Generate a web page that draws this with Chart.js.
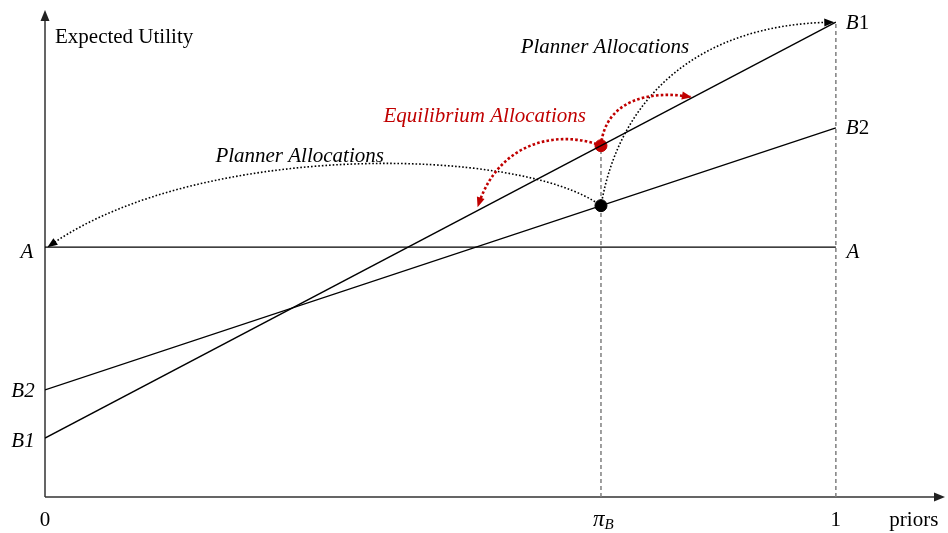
<!DOCTYPE html>
<html>
<head>
<meta charset="utf-8">
<script src="https://cdn.jsdelivr.net/npm/chart.js@4.4.1/dist/chart.umd.min.js"></script>
<style>
    html, body { margin: 0; padding: 0; background: #fff; }
    canvas { display: block; }
</style>
</head>
<body>
<canvas id="diagram" width="948" height="533"></canvas>
<script>
// Werte (x: priors 0..1, y: erwarteter Nutzen in willkürlichen Einheiten)
const priors = [0, 1];
const utilA = [5.13, 5.13];
const utilB1 = [1.21, 9.75];
const utilB2 = [2.20, 7.58];
const piB = 0.703;

// Kontrollpunkte der gepunkteten Pfeile (Datenkoordinaten): [cp1, cp2, ende]
const plannerLeft = [[0.600, 7.20], [0.200, 7.30], [0.003, 5.13]];
const plannerUp = [[0.727, 8.25], [0.828, 9.69], [0.998, 9.75]];
const equilLeft = [[0.651, 7.54], [0.575, 7.33], [0.547, 5.95]];
const equilRight = [[0.708, 8.15], [0.765, 8.36], [0.818, 8.21]];

const RED = '#c00000';
const SERIF = '"Liberation Serif", "Times New Roman", serif';

const lineAt = (arr, x) => arr[0] + (arr[1] - arr[0]) * x;
const redY = lineAt(utilB1, piB);
const blackY = lineAt(utilB2, piB);

const toPts = (ys) => priors.map((p, i) => ({ x: p, y: ys[i] }));

function arrowHead(ctx, fromX, fromY, toX, toY, color, len = 10, half = 4) {
    const ang = Math.atan2(toY - fromY, toX - fromX);
    ctx.save();
    ctx.fillStyle = color;
    ctx.setLineDash([]);
    ctx.beginPath();
    ctx.moveTo(toX, toY);
    ctx.lineTo(toX - len * Math.cos(ang) + half * Math.sin(ang), toY - len * Math.sin(ang) - half * Math.cos(ang));
    ctx.lineTo(toX - len * Math.cos(ang) - half * Math.sin(ang), toY - len * Math.sin(ang) + half * Math.cos(ang));
    ctx.closePath();
    ctx.fill();
    ctx.restore();
}

function dottedCurve(ctx, xs, ys, start, cps, color, width, dash) {
    const p = [start, ...cps].map(pt => [xs.getPixelForValue(pt[0]), ys.getPixelForValue(pt[1])]);
    ctx.save();
    ctx.strokeStyle = color;
    ctx.lineWidth = width;
    ctx.setLineDash(dash);
    ctx.beginPath();
    ctx.moveTo(p[0][0], p[0][1]);
    // etwas vor der Spitze aufhören, damit die Pfeilspitze sauber sitzt
    const ex = p[3][0] - (p[3][0] - p[2][0]) * 0.04;
    const ey = p[3][1] - (p[3][1] - p[2][1]) * 0.04;
    ctx.bezierCurveTo(p[1][0], p[1][1], p[2][0], p[2][1], ex, ey);
    ctx.stroke();
    ctx.restore();
    arrowHead(ctx, p[2][0], p[2][1], p[3][0], p[3][1], color);
}

function label(ctx, text, x, y, style, color = '#000', align = 'center') {
    ctx.save();
    ctx.font = style + ' ' + SERIF;
    ctx.fillStyle = color;
    ctx.textAlign = align;
    ctx.textBaseline = 'middle';
    ctx.fillText(text, x, y);
    ctx.restore();
}

const diagramPlugin = {
    id: 'diagram',
    beforeDatasetsDraw(chart) {
        const { ctx, chartArea: area, scales: { x, y } } = chart;
        const x0 = x.getPixelForValue(0);
        const y0 = y.getPixelForValue(0);

        // Achsen
        ctx.save();
        ctx.strokeStyle = '#333';
        ctx.lineWidth = 1.5;
        ctx.beginPath();
        ctx.moveTo(x0, y0);
        ctx.lineTo(x0, area.top + 8);
        ctx.moveTo(x0, y0);
        ctx.lineTo(area.right - 8, y0);
        ctx.stroke();
        ctx.restore();
        arrowHead(ctx, x0, y0, x0, area.top, '#222', 11, 4.5);
        arrowHead(ctx, x0, y0, area.right, y0, '#222', 11, 4.5);

        // gestrichelte Senkrechten
        ctx.save();
        ctx.strokeStyle = '#7f7f7f';
        ctx.lineWidth = 1.5;
        ctx.setLineDash([4, 3]);
        ctx.beginPath();
        ctx.moveTo(x.getPixelForValue(piB), y0);
        ctx.lineTo(x.getPixelForValue(piB), y.getPixelForValue(redY));
        ctx.moveTo(x.getPixelForValue(1), y0);
        ctx.lineTo(x.getPixelForValue(1), y.getPixelForValue(utilB1[1]));
        ctx.stroke();
        ctx.restore();

        // gepunktete Pfeile
        dottedCurve(ctx, x, y, [piB, blackY], plannerLeft, '#000', 1.6, [1.6, 2]);
        dottedCurve(ctx, x, y, [piB, blackY], plannerUp, '#000', 1.6, [1.6, 2]);
        dottedCurve(ctx, x, y, [piB, redY], equilLeft, RED, 2.6, [2.6, 2.2]);
        dottedCurve(ctx, x, y, [piB, redY], equilRight, RED, 2.6, [2.6, 2.2]);
    },
    afterDatasetsDraw(chart) {
        const { ctx, scales: { x, y } } = chart;
        const px = v => x.getPixelForValue(v);
        const py = v => y.getPixelForValue(v);

        label(ctx, 'Expected Utility', px(0) + 10, py(10) + 27, '21px', '#000', 'left');
        label(ctx, 'Planner Allocations', px(0.708), py(9.23), 'italic 21px');
        label(ctx, 'Planner Allocations', px(0.322), py(7.0), 'italic 21px');
        label(ctx, 'Equilibrium Allocations', px(0.556), py(7.82), 'italic 21px', RED);

        label(ctx, 'A', px(0) - 18, py(utilA[0]) + 5, 'italic 21px');
        label(ctx, 'A', px(1) + 17, py(utilA[1]) + 5, 'italic 21px');
        label(ctx, 'B2', px(0) - 22, py(utilB2[0]) + 2, 'italic 21px');
        label(ctx, 'B1', px(0) - 22, py(utilB1[0]) + 3, 'italic 21px');

        // rechts: B kursiv, Ziffer aufrecht
        [[utilB1[1], '1'], [utilB2[1], '2']].forEach(([v, d]) => {
            ctx.save();
            ctx.fillStyle = '#000';
            ctx.textBaseline = 'middle';
            ctx.font = 'italic 21px ' + SERIF;
            ctx.fillText('B', px(1) + 10, py(v) + 1);
            const w = ctx.measureText('B').width;
            ctx.font = '21px ' + SERIF;
            ctx.fillText(d, px(1) + 10 + w, py(v) + 1);
            ctx.restore();
        });

        const ty = py(0) + 23;
        label(ctx, '0', px(0), ty, '21px');
        label(ctx, '1', px(1), ty, '21px');
        label(ctx, 'priors', px(1) + 78, ty, '21px');

        // π_B
        ctx.save();
        ctx.fillStyle = '#000';
        ctx.textBaseline = 'alphabetic';
        ctx.font = 'italic 23px ' + SERIF;
        const piW = ctx.measureText('π').width;
        ctx.fillText('π', px(piB) - 8, ty + 6);
        ctx.font = 'italic 15px ' + SERIF;
        ctx.fillText('B', px(piB) - 8 + piW, ty + 9);
        ctx.restore();
    }
};

const lineStyle = {
    borderColor: '#000',
    borderWidth: 1.3,
    pointRadius: 0,
    fill: false,
    tension: 0
};

new Chart(document.getElementById('diagram'), {
    type: 'line',
    data: {
        datasets: [
            { label: 'A', data: toPts(utilA), ...lineStyle },
            { label: 'B1', data: toPts(utilB1), ...lineStyle },
            { label: 'B2', data: toPts(utilB2), ...lineStyle },
            {
                label: 'Gleichgewicht',
                data: [{ x: piB, y: redY }],
                showLine: false,
                pointRadius: 6,
                pointBackgroundColor: RED,
                pointBorderColor: RED
            },
            {
                label: 'Planer',
                data: [{ x: piB, y: blackY }],
                showLine: false,
                pointRadius: 6,
                pointBackgroundColor: '#000',
                pointBorderColor: '#000'
            }
        ]
    },
    options: {
        responsive: false,
        animation: false,
        layout: { autoPadding: false, padding: { left: 45, top: 10, right: 3, bottom: 36 } },
        scales: {
            x: { type: 'linear', min: 0, max: 1.138, display: false },
            y: { type: 'linear', min: 0, max: 10, display: false }
        },
        plugins: {
            legend: { display: false },
            tooltip: { enabled: false }
        },
        events: []
    },
    plugins: [diagramPlugin]
});
</script>
</body>
</html>
